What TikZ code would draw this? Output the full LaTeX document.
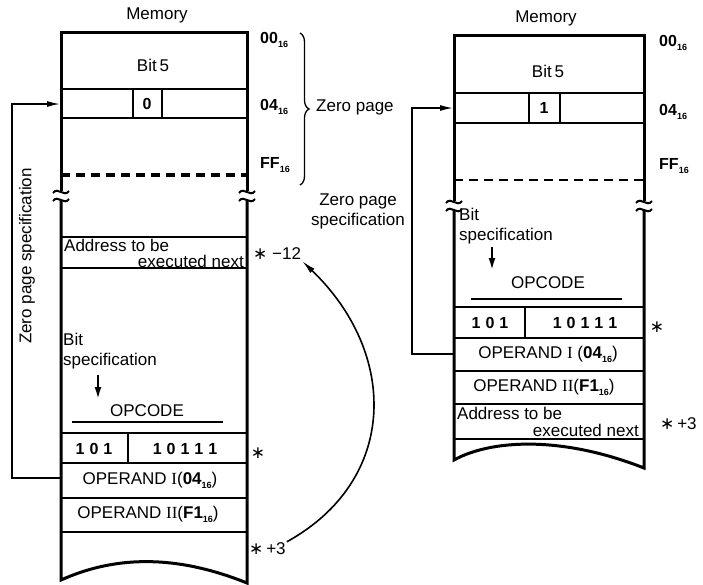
\documentclass[tikz,border=0pt]{standalone}
\usepackage{fontspec}
\setmainfont{Liberation Sans}
\newfontfamily\romanfont{Liberation Serif}
\newfontfamily\starfont{DejaVu Sans}
\usetikzlibrary{
  arrows.meta,
  decorations.pathreplacing
}
\newcommand{\hexsub}[2]{\textbf{#1\raisebox{-0.45ex}{\fontsize{9}{10}\selectfont\bfseries #2}}}
\newcommand{\memstar}{{\starfont\fontsize{17}{17}\selectfont ∗}}
\newcommand{\bg}{\hspace{5pt}}
\tikzset{
  memedge/.style={line width=3pt},
  breakmark/.style={line width=2pt},
  rowline/.style={line width=1.3pt},
  zpdash/.style={line width=3.5pt, dash pattern=on 9pt off 6pt},
  zpdashthin/.style={line width=1.2pt, dash pattern=on 9pt off 6pt},
  memtext/.style={font=\fontsize{17}{20}\selectfont, inner sep=1pt},
  hexlabel/.style={font=\fontsize{16}{18}\selectfont\bfseries, anchor=west, inner sep=0pt},
  bitcell/.style={font=\fontsize{16}{18}\selectfont\bfseries, inner sep=0pt},
  specarrow/.style={-{Latex[length=13pt,width=6pt]}, line width=1.4pt},
  bitarrow/.style={-{Latex[length=12pt,width=7pt]}, line width=2pt},
  jumparrow/.style={-{Latex[length=14pt,width=6pt]}, line width=1.6pt},
  zpbrace/.style={decorate, decoration={brace, amplitude=9pt}, line width=1.3pt}
}
\begin{document}
\begin{tikzpicture}[x=1pt, y=-1pt]
  \useasboundingbox (0,0) rectangle (703,584);

  % left memory map (zero page bit = 0)
  \draw[memedge] (61,191) -- (61,32) -- (247,32) -- (247,191);
  \draw[memedge] (61,200) -- (61,580) .. controls (110,558) and (170,552) .. (247,583) -- (247,200);
  \foreach \bx in {61,247} {
    \draw[breakmark] (\bx-8,193) .. controls (\bx-3,186) and (\bx+3,198) .. (\bx+8,191);
    \draw[breakmark] (\bx-8,201) .. controls (\bx-3,194) and (\bx+3,206) .. (\bx+8,199);
  }
  \draw[rowline] (61,89) -- (247,89) (61,118) -- (247,118);
  \draw[rowline] (133,89) -- (133,118) (162,89) -- (162,118);
  \draw[zpdash] (61,175) -- (247,175);
  \draw[rowline] (61,237) -- (247,237) (61,268) -- (247,268);
  \draw[rowline] (72,422) -- (223,422);
  \foreach \ry in {433,463,498,532}
    \draw[rowline] (61,\ry) -- (247,\ry);
  \draw[rowline] (128,433) -- (128,463);

  \node[memtext] (lmem) at (157,15) {Memory};
  \node[memtext] (lbit) at (153,65) {Bit\,5};
  \node[bitcell] (lzero) at (147,104) {0};
  \node[hexlabel] (l00) at (260,40) {\hexsub{00}{16}};
  \node[hexlabel] (l04) at (260,107) {\hexsub{04}{16}};
  \node[hexlabel] (lFF) at (260,165) {\hexsub{FF}{16}};
  \draw[zpbrace] (300,33) -- (300,185);
  \node[memtext, anchor=west] (lzp) at (315,107) {Zero page};
  \node[memtext, anchor=west] (laddr1) at (63,245) {Address to be};
  \node[memtext, anchor=east] (laddr2) at (245,261) {executed next};
  \node[memtext, anchor=west] (lminus) at (252,254) {\memstar\ −12};
  \node[memtext, anchor=north west, align=left] (lbitspec) at (62,332) {Bit\\specification};
  \coordinate (lbtop) at (98,375);
  \coordinate (lbend) at (98,399);
  \draw[bitarrow] (lbtop) -- (lbend);
  \node[memtext] (lopc) at (147,411) {OPCODE};
  \node[bitcell] (lb1) at (94,449) {1\bg0\bg1};
  \node[bitcell] (lb2) at (185,449) {1\bg0\bg1\bg1\bg1};
  \node[memtext] (lstar) at (258,453) {\memstar};
  \node[memtext] (lop1) at (150,480) {OPERAND {\romanfont I}(\hexsub{04}{16})};
  \node[memtext] (lop2) at (148,514) {OPERAND {\romanfont II}(\hexsub{F1}{16})};
  \node[memtext, anchor=west] (lplus) at (248,549) {\memstar\,+3};

  % zero page specification, left
  \node[memtext, rotate=90] (lzps) at (27,256) {Zero page specification};
  \coordinate (lrow) at (60,104);
  \coordinate (lop) at (61,478);
  \coordinate (lbnd) at (12,478);
  \draw[specarrow] (lop) -- (lbnd) |- (lrow);

  % jump back to *-12
  \draw[jumparrow] (lplus.north east) .. controls +(112,-62) and +(96,92) .. (lminus.south east);

  % right memory map (zero page bit = 1)
  \draw[memedge] (454,201) -- (454,35) -- (644,35) -- (644,201);
  \draw[memedge] (454,210) -- (454,460) .. controls (490,440) and (560,435) .. (644,468) -- (644,210);
  \foreach \bx in {454,644} {
    \draw[breakmark] (\bx-8,203) .. controls (\bx-3,196) and (\bx+3,208) .. (\bx+8,201);
    \draw[breakmark] (\bx-8,211) .. controls (\bx-3,204) and (\bx+3,216) .. (\bx+8,209);
  }
  \draw[rowline] (454,93) -- (644,93) (454,123) -- (644,123);
  \draw[rowline] (529,93) -- (529,123) (560,93) -- (560,123);
  \draw[zpdashthin] (454,180) -- (644,180);
  \draw[rowline] (471,299) -- (622,299);
  \foreach \ry in {307,338,371,404,439}
    \draw[rowline] (454,\ry) -- (644,\ry);
  \draw[rowline] (525,307) -- (525,338);

  \node[memtext] (rmem) at (546,18) {Memory};
  \node[memtext] (rbit) at (548,71) {Bit\,5};
  \node[bitcell] (rone) at (544,108) {1};
  \node[hexlabel] (r00) at (659,43) {\hexsub{00}{16}};
  \node[hexlabel] (r04) at (659,112) {\hexsub{04}{16}};
  \node[hexlabel] (rFF) at (659,166) {\hexsub{FF}{16}};
  \node[memtext, anchor=north west, align=left] (rbitspec) at (458,207) {Bit\\specification};
  \coordinate (rbtop) at (492,247);
  \coordinate (rbend) at (492,270);
  \draw[bitarrow] (rbtop) -- (rbend);
  \node[memtext] (ropc) at (548,283) {OPCODE};
  \node[bitcell] (rb1) at (490,323) {1\bg0\bg1};
  \node[bitcell] (rb2) at (585,323) {1\bg0\bg1\bg1\bg1};
  \node[memtext] (rstar) at (657,327) {\memstar};
  \node[memtext] (rop1) at (548,354) {OPERAND {\romanfont I} (\hexsub{04}{16})};
  \node[memtext] (rop2) at (544,387) {OPERAND {\romanfont II}(\hexsub{F1}{16})};
  \node[memtext, anchor=west] (raddr1) at (456,413) {Address to be};
  \node[memtext, anchor=east] (raddr2) at (640,430) {executed next};
  \node[memtext, anchor=west] (rplus) at (659,424) {\memstar\,+3};

  % zero page specification, right
  \node[memtext, align=center] (rzps) at (358,211) {Zero page\\specification};
  \coordinate (rrow) at (453,108);
  \coordinate (rop) at (454,354);
  \coordinate (rbnd) at (412,354);
  \draw[specarrow] (rop) -- (rbnd) |- (rrow);
\end{tikzpicture}
\end{document}
